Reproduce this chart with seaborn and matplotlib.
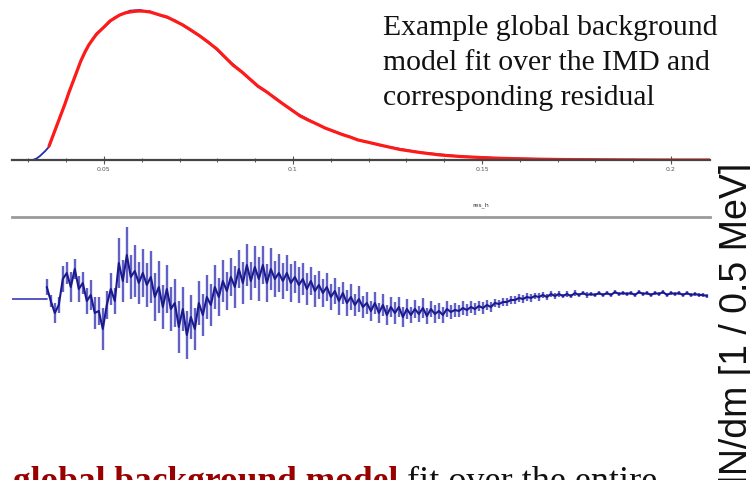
import numpy as np
import pandas as pd
import seaborn as sns
import matplotlib
matplotlib.use("Agg")
import matplotlib.pyplot as plt

# ---------------- data ----------------
# fitted global background model (red)
fit_x = [0.0355, 0.0365, 0.0376, 0.0386, 0.0397, 0.0407, 0.0418, 0.0429, 0.0439,
         0.0450, 0.0460, 0.0471, 0.0481, 0.0492, 0.0503, 0.0516, 0.0529, 0.0542,
         0.0556, 0.0569, 0.0582, 0.0595, 0.0608, 0.0622, 0.0635, 0.0648, 0.0667,
         0.0688, 0.0709, 0.0730, 0.0754, 0.0775, 0.0799, 0.0820, 0.0841, 0.0865,
         0.0886, 0.0907, 0.0931, 0.0952, 0.0974, 0.0997, 0.1019, 0.1040, 0.1063,
         0.1085, 0.1106, 0.1130, 0.1151, 0.1172, 0.1196, 0.1230, 0.1283, 0.1336,
         0.1389, 0.1442, 0.1495, 0.1548, 0.1601, 0.1653, 0.1706, 0.1812, 0.1944,
         0.2103]
fit_y = [420, 720, 1050, 1350, 1680, 2010, 2340, 2670, 2970,
         3240, 3450, 3630, 3780, 3900, 4020, 4170, 4260, 4350,
         4410, 4440, 4461, 4470, 4461, 4440, 4395, 4350, 4290,
         4170, 4050, 3900, 3720, 3540, 3330, 3090, 2850, 2640,
         2430, 2220, 2040, 1860, 1680, 1500, 1320, 1200, 1080,
         960, 870, 765, 690, 600, 540, 450, 315, 225,
         150, 105, 75, 51, 36, 24, 15, 6, 0,
         0]
# invariant mass distribution (blue)
data_x = [0.0257, 0.0291, 0.0312, 0.0322, 0.0331, 0.0345, 0.0355, 0.0376, 0.0397,
          0.0418, 0.0439, 0.0460, 0.0481, 0.0503, 0.0529, 0.0556, 0.0569, 0.0582,
          0.0595, 0.0608, 0.0622, 0.0648, 0.0688, 0.0730, 0.0775, 0.0820, 0.0865,
          0.0907, 0.0952, 0.0997, 0.1040, 0.1085, 0.1130, 0.1172, 0.1230, 0.1336,
          0.1442, 0.1548, 0.1653, 0.1759, 0.1865, 0.1970, 0.2115]
data_y = [0, 0, 0, 45, 120, 270, 400, 1040, 1690,
          2330, 2980, 3440, 3800, 4010, 4280, 4420, 4480, 4490,
          4500, 4470, 4460, 4340, 4190, 3880, 3560, 3080, 2650,
          2200, 1880, 1480, 1220, 950, 780, 610, 440, 230,
          110, 55, 30, 14, 8, 4, 0]

# residual (res_h)
res_flat_x = [0.0257, 0.0349]
res_flat_y = [0, 0]
res_range = (0.0349, 0.2095)
res_y = [12, -2, -14, -6, 20, 26, 12, 30, 10, 16,
         -2, 4, -14, -12, -30, -6, 10, -2, 36, 18,
         44, 22, 28, 16, 26, 14, 22, 2, 12, -8,
         10, -10, -4, -28, -10, -36, -18, -30, -4, -16,
         2, -6, 12, 2, 18, 8, 22, 12, 30, 16,
         34, 18, 32, 20, 34, 16, 30, 20, 26, 18,
         26, 16, 22, 14, 20, 10, 18, 8, 14, 6,
         12, 2, 8, -2, 6, -4, 2, -6, 0, -8,
         -4, -12, -4, -14, -6, -16, -8, -14, -8, -18,
         -10, -16, -10, -15, -9, -17, -10, -15, -12, -16,
         -10, -13, -11, -12, -9, -11, -8, -10, -7, -9,
         -6, -8, -4, -5, -3, -3, -1, -1, 1, 0,
         2, 1, 3, 2, 4, 2, 5, 3, 5, 3,
         5, 3, 6, 4, 6, 4, 5, 4, 6, 4,
         6, 4, 7, 5, 6, 5, 6, 4, 7, 5,
         6, 4, 6, 5, 7, 4, 6, 5, 6, 4,
         6, 4, 5, 4, 4, 3]
res_err = [8, 6, 10, 8, 13, 11, 15, 10, 13, 11,
           13, 15, 16, 14, 21, 14, 16, 13, 25, 21,
           28, 22, 26, 21, 24, 22, 26, 24, 26, 22,
           24, 22, 24, 26, 22, 24, 22, 21, 22, 21,
           22, 21, 22, 19, 21, 19, 19, 21, 19, 21,
           21, 19, 21, 22, 19, 19, 21, 18, 19, 18,
           18, 19, 16, 18, 16, 16, 14, 16, 14, 14,
           14, 13, 13, 14, 11, 13, 13, 11, 13, 11,
           11, 10, 11, 10, 11, 10, 10, 11, 10, 10,
           10, 8, 9, 8, 10, 8, 8, 9, 8, 8,
           8, 7, 7, 6, 7, 6, 6, 6, 5, 6,
           5, 5, 4, 4, 4, 4, 4, 4, 4, 4,
           4, 4, 3, 4, 3, 3, 3, 3, 3, 2,
           3, 2, 3, 2, 2, 3, 2, 2, 2, 2,
           2, 2, 2, 2, 2, 2, 2, 2, 2, 2,
           2, 2, 2, 2, 2, 2, 2, 2, 2, 2,
           2, 2, 2, 2, 2, 2]

major_ticks = [0.05, 0.1, 0.15, 0.2]
major_labels = ["0.05", "0.1", "0.15", "0.2"]

title_lines = ["Example global background", "model fit over the IMD and",
               "corresponding residual"]
ylabel_text = "dN/dm [1 / 0.5 MeV]"
bottom_bold = "global background model"
bottom_rest = " fit over the entire"

# ---------------- figure ----------------
sns.set_theme(style="white")
plt.rcParams["font.family"] = ["DejaVu Sans"]

W, H = 750, 481
fig = plt.figure(figsize=(W / 100, H / 100), dpi=100)
fig.patch.set_facecolor("white")

def fx(px):
    return px / W

def fy(py):
    return 1 - py / H

xlim = (0.0257, 0.2103)

# top panel
ax1 = fig.add_axes([fx(12), fy(161), fx(710) - fx(12), fy(0) - fy(161)])
ax1.set_facecolor("none")
df_data = pd.DataFrame({"x": data_x, "y": data_y})
df_fit = pd.DataFrame({"x": fit_x, "y": fit_y})
sns.lineplot(data=df_data, x="x", y="y", ax=ax1, color="#1f2fb0", lw=1.3,
             estimator=None, sort=False)
sns.lineplot(data=df_fit, x="x", y="y", ax=ax1, color="#ff1a1a", lw=2.3,
             estimator=None, sort=False)
ax1.set_xlim(*xlim)
ax1.set_ylim(0, 4830)
for s in ["top", "right", "left"]:
    ax1.spines[s].set_visible(False)
ax1.spines["bottom"].set_color("#444444")
ax1.spines["bottom"].set_linewidth(1.6)
ax1.set_yticks([])
ax1.set_xticks(major_ticks)
ax1.set_xticklabels(major_labels)
ax1.set_xticks(np.arange(0.03, 0.21, 0.01), minor=True)
ax1.tick_params(axis="x", which="major", direction="inout", length=6, width=0.8,
                colors="#555555", labelsize=4.5, pad=1, bottom=True)
ax1.tick_params(axis="x", which="minor", direction="inout", length=3, width=0.7,
                colors="#555555", bottom=True)
ax1.set_xlabel("")
ax1.set_ylabel("")

# residual panel
ax2 = fig.add_axes([fx(12), fy(400), fx(710) - fx(12), fy(218) - fy(400)])
ax2.set_facecolor("none")
res_x = np.linspace(res_range[0], res_range[1], len(res_y))
ax2.errorbar(res_x, res_y, yerr=res_err, fmt="none", ecolor="#4646bc",
             elinewidth=1.7, capsize=0, alpha=0.85)
sns.lineplot(x=res_flat_x, y=res_flat_y, ax=ax2, color="#3a3ab8", lw=1.2)
df_res = pd.DataFrame({"x": res_x, "y": res_y})
sns.lineplot(data=df_res, x="x", y="y", ax=ax2, color="#1a1a8e", lw=1.5,
             estimator=None, sort=False)
ax2.set_xlim(*xlim)
ax2.set_ylim(-100, 82)
for s in ["bottom", "right", "left"]:
    ax2.spines[s].set_visible(False)
ax2.spines["top"].set_color("#9a9a9a")
ax2.spines["top"].set_linewidth(2.0)
ax2.set_xticks([])
ax2.set_yticks([])
ax2.set_xlabel("")
ax2.set_ylabel("")

fig.text(fx(481), fy(205), "res_h", fontsize=4.5, color="#333333",
         ha="center", va="center")

# annotation text
for i, line in enumerate(title_lines):
    fig.text(fx(383), fy(35 + 35 * i), line, fontsize=21.3,
             family="Liberation Serif", color="#111111", ha="left", va="baseline")

fig.text(fx(737), fy(163), ylabel_text, fontsize=27, family="Liberation Sans",
         rotation=90, ha="center", va="top", color="#111111")

t1 = fig.text(fx(13), fy(491), bottom_bold, fontsize=25.5, family="Liberation Serif",
              weight="bold", color="#990000", ha="left", va="baseline")
fig.canvas.draw()
bb = t1.get_window_extent(fig.canvas.get_renderer())
fig.text(bb.x1 / (fig.dpi * fig.get_figwidth()), fy(491), bottom_rest, fontsize=26,
         family="Liberation Serif", color="#111111", ha="left", va="baseline")

fig.savefig("out.png", dpi=100)
